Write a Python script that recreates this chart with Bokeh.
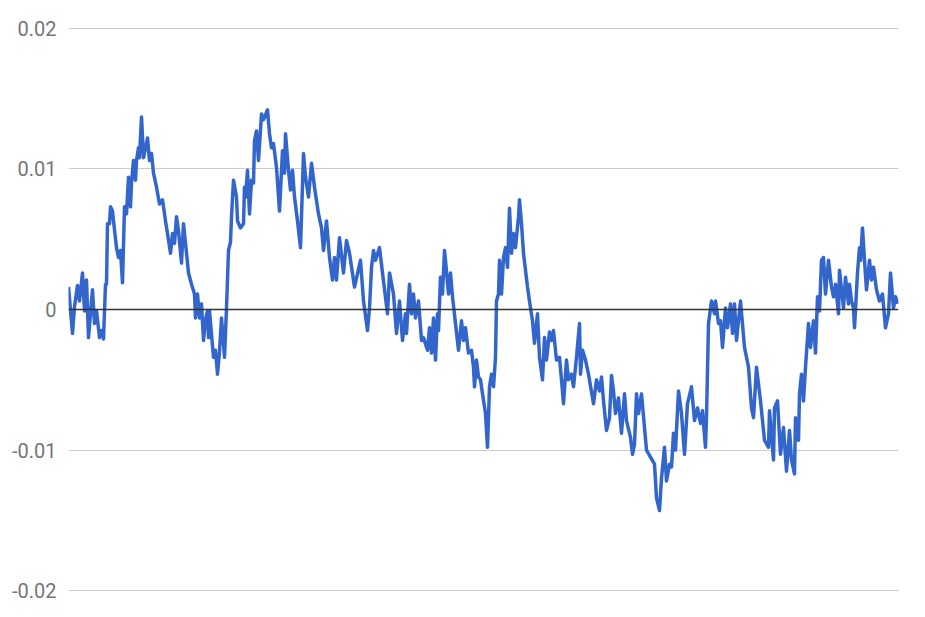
from bokeh.plotting import figure
from bokeh.models import Range1d, FixedTicker, Span, ColumnDataSource
from bokeh.embed import file_html
from bokeh.resources import INLINE

# sample step index and value (random-walk style series)
steps = [
    0, 4, 6, 9, 11, 14, 16, 18, 20, 23, 24, 26, 28, 31, 33, 35, 37, 38, 39, 41,
    42, 44, 45, 48, 50, 52, 54, 56, 58, 60, 62, 63, 65, 67, 68, 70, 71, 73, 75, 79,
    81, 83, 85, 88, 91, 94, 97, 99, 102, 104, 106, 108, 110, 113, 115, 118, 120, 123, 126, 127,
    129, 131, 133, 135, 137, 139, 140, 141, 145, 147, 149, 151, 153, 156, 158, 160, 162, 163, 165, 168,
    169, 172, 175, 176, 177, 179, 181, 183, 185, 186, 188, 190, 193, 195, 199, 201, 203, 205, 208, 211,
    214, 216, 217, 220, 222, 224, 226, 229, 232, 235, 237, 240, 243, 246, 250, 253, 255, 258, 261, 264,
    266, 268, 271, 275, 278, 281, 286, 292, 295, 299, 301, 303, 305, 307, 311, 314, 319, 321, 325, 328,
    331, 334, 337, 338, 341, 343, 345, 347, 350, 353, 355, 359, 361, 363, 365, 367, 369, 370, 372, 374,
    376, 377, 380, 382, 384, 387, 390, 393, 395, 397, 400, 403, 405, 406, 408, 410, 412, 414, 417, 419,
    421, 423, 425, 427, 428, 430, 431, 433, 435, 437, 439, 441, 443, 445, 447, 450, 451, 453, 455, 459,
    462, 464, 466, 469, 471, 474, 476, 478, 481, 483, 485, 488, 491, 493, 495, 498, 500, 503, 505, 508,
    511, 512, 514, 517, 520, 525, 528, 531, 533, 535, 538, 541, 543, 545, 547, 550, 553, 556, 558, 562,
    564, 566, 568, 570, 573, 576, 578, 582, 586, 588, 591, 593, 596, 598, 601, 603, 605, 607, 610, 613,
    616, 619, 623, 626, 629, 632, 634, 637, 638, 640, 643, 646, 647, 650, 652, 654, 657, 659, 662, 664,
    666, 668, 672, 676, 680, 683, 685, 688, 692, 696, 700, 701, 705, 706, 709, 712, 715, 718, 721, 723,
    726, 727, 730, 731, 733, 735, 737, 740, 742, 745, 747, 749, 751, 753, 755, 757, 760, 763, 765, 767,
    770, 771, 775, 777, 780, 781, 783, 785, 786, 789, 791, 792, 794, 796, 798, 801, 803, 805, 808, 811,
    814, 817, 820, 822, 825, 827, 829,
]
values = [
    0.0016, -0.0017, 0.0002, 0.0017, 0.0006, 0.0026, -0.0001, 0.0021, -0.0020, 0.0006,
    0.0014, -0.0010, -0.0001, -0.0020, -0.0015, -0.0021, 0.0018, 0.0018, 0.0061, 0.0061,
    0.0073, 0.0070, 0.0063, 0.0044, 0.0037, 0.0042, 0.0019, 0.0073, 0.0068, 0.0094,
    0.0073, 0.0090, 0.0106, 0.0092, 0.0106, 0.0115, 0.0108, 0.0137, 0.0108, 0.0122,
    0.0106, 0.0111, 0.0097, 0.0087, 0.0075, 0.0078, 0.0063, 0.0054, 0.0040, 0.0054,
    0.0047, 0.0066, 0.0056, 0.0033, 0.0061, 0.0040, 0.0026, 0.0018, 0.0011, -0.0006,
    0.0011, -0.0006, 0.0004, -0.0022, -0.0007, -0.0001, -0.0020, -0.0001, -0.0034, -0.0029,
    -0.0046, -0.0030, -0.0006, -0.0034, 0.0001, 0.0042, 0.0048, 0.0066, 0.0092, 0.0080,
    0.0063, 0.0058, 0.0061, 0.0087, 0.0080, 0.0099, 0.0068, 0.0092, 0.0090, 0.0120,
    0.0127, 0.0106, 0.0139, 0.0135, 0.0142, 0.0125, 0.0115, 0.0118, 0.0101, 0.0070,
    0.0113, 0.0097, 0.0125, 0.0099, 0.0085, 0.0099, 0.0080, 0.0063, 0.0044, 0.0111,
    0.0094, 0.0080, 0.0104, 0.0087, 0.0068, 0.0058, 0.0042, 0.0063, 0.0037, 0.0021,
    0.0037, 0.0021, 0.0051, 0.0026, 0.0049, 0.0040, 0.0016, 0.0035, 0.0006, -0.0015,
    0.0001, 0.0030, 0.0042, 0.0035, 0.0044, 0.0026, -0.0003, 0.0026, 0.0011, -0.0017,
    0.0006, -0.0022, -0.0003, -0.0017, 0.0018, -0.0003, 0.0011, -0.0006, 0.0006, -0.0022,
    -0.0020, -0.0029, -0.0013, -0.0031, -0.0006, -0.0036, -0.0003, -0.0015, 0.0023, 0.0011,
    0.0042, 0.0035, 0.0011, 0.0026, 0.0009, -0.0010, -0.0029, -0.0008, -0.0022, -0.0013,
    -0.0031, -0.0029, -0.0041, -0.0055, -0.0036, -0.0048, -0.0050, -0.0060, -0.0074, -0.0098,
    -0.0055, -0.0046, -0.0055, -0.0034, 0.0006, 0.0011, 0.0035, 0.0011, 0.0037, 0.0044,
    0.0030, 0.0072, 0.0040, 0.0054, 0.0044, 0.0066, 0.0078, 0.0061, 0.0040, 0.0016,
    0.0001, -0.0008, -0.0024, -0.0003, -0.0034, -0.0050, -0.0020, -0.0036, -0.0016, -0.0022,
    -0.0015, -0.0036, -0.0034, -0.0050, -0.0067, -0.0036, -0.0050, -0.0046, -0.0055, -0.0034,
    -0.0010, -0.0046, -0.0029, -0.0036, -0.0046, -0.0067, -0.0050, -0.0058, -0.0048, -0.0065,
    -0.0086, -0.0077, -0.0047, -0.0058, -0.0074, -0.0063, -0.0088, -0.0060, -0.0079, -0.0091,
    -0.0103, -0.0096, -0.0060, -0.0074, -0.0060, -0.0084, -0.0100, -0.0105, -0.0110, -0.0134,
    -0.0143, -0.0120, -0.0098, -0.0122, -0.0110, -0.0112, -0.0088, -0.0100, -0.0058, -0.0074,
    -0.0103, -0.0067, -0.0055, -0.0079, -0.0070, -0.0081, -0.0072, -0.0098, -0.0077, -0.0010,
    0.0006, -0.0003, 0.0006, -0.0010, -0.0008, -0.0027, 0.0001, -0.0013, 0.0004, -0.0017,
    0.0004, -0.0022, 0.0006, -0.0027, -0.0041, -0.0070, -0.0077, -0.0041, -0.0065, -0.0093,
    -0.0098, -0.0072, -0.0107, -0.0070, -0.0065, -0.0103, -0.0084, -0.0115, -0.0086, -0.0107,
    -0.0117, -0.0077, -0.0093, -0.0060, -0.0046, -0.0065, -0.0041, -0.0010, -0.0027, -0.0008,
    -0.0031, 0.0009, -0.0001, 0.0035, 0.0037, 0.0011, 0.0035, 0.0016, 0.0009, 0.0018,
    -0.0003, 0.0028, 0.0001, 0.0023, 0.0004, 0.0018, 0.0006, 0.0001, -0.0013, 0.0026,
    0.0044, 0.0035, 0.0058, 0.0035, 0.0014, 0.0035, 0.0021, 0.0030, 0.0014, 0.0006,
    0.0011, -0.0013, -0.0003, 0.0026, 0.0001, 0.0009, 0.0004,
]

tick_values = [-0.02, -0.01, 0.0, 0.01, 0.02]
tick_labels = ["-0.02", "-0.01", "0", "0.01", "0.02"]

n = min(len(steps), len(values))
source = ColumnDataSource(data=dict(t=steps[:n], v=values[:n]))

p = figure(
    frame_width=830, frame_height=568,
    x_range=Range1d(0, 830), y_range=Range1d(-0.0202, 0.0202),
    output_backend="svg", toolbar_location=None,
    x_axis_location=None,
    min_border_left=68, min_border_right=10, min_border_top=25, min_border_bottom=10,
)
p.outline_line_color = None
p.background_fill_color = "white"
p.border_fill_color = "white"

p.xgrid.visible = False
p.ygrid.ticker = FixedTicker(ticks=tick_values)
p.ygrid.grid_line_color = "#cccccc"
p.ygrid.grid_line_width = 1

yax = p.yaxis[0]
yax.ticker = FixedTicker(ticks=tick_values)
yax.major_label_overrides = {tv: tl for tv, tl in zip(tick_values, tick_labels)}
yax.axis_line_color = None
yax.major_tick_line_color = None
yax.minor_tick_line_color = None
yax.major_tick_out = 0
yax.major_tick_in = 0
yax.major_label_standoff = 12
yax.major_label_text_font = "Roboto"
yax.major_label_text_font_size = "20px"
yax.major_label_text_color = "#757575"

p.line("t", "v", source=source, line_color="#3366cc", line_width=3.5, line_join="round")

p.add_layout(Span(location=0, dimension="width", line_color="#333333", line_width=1.3))

open("out.html", "w").write(file_html(p, INLINE))
